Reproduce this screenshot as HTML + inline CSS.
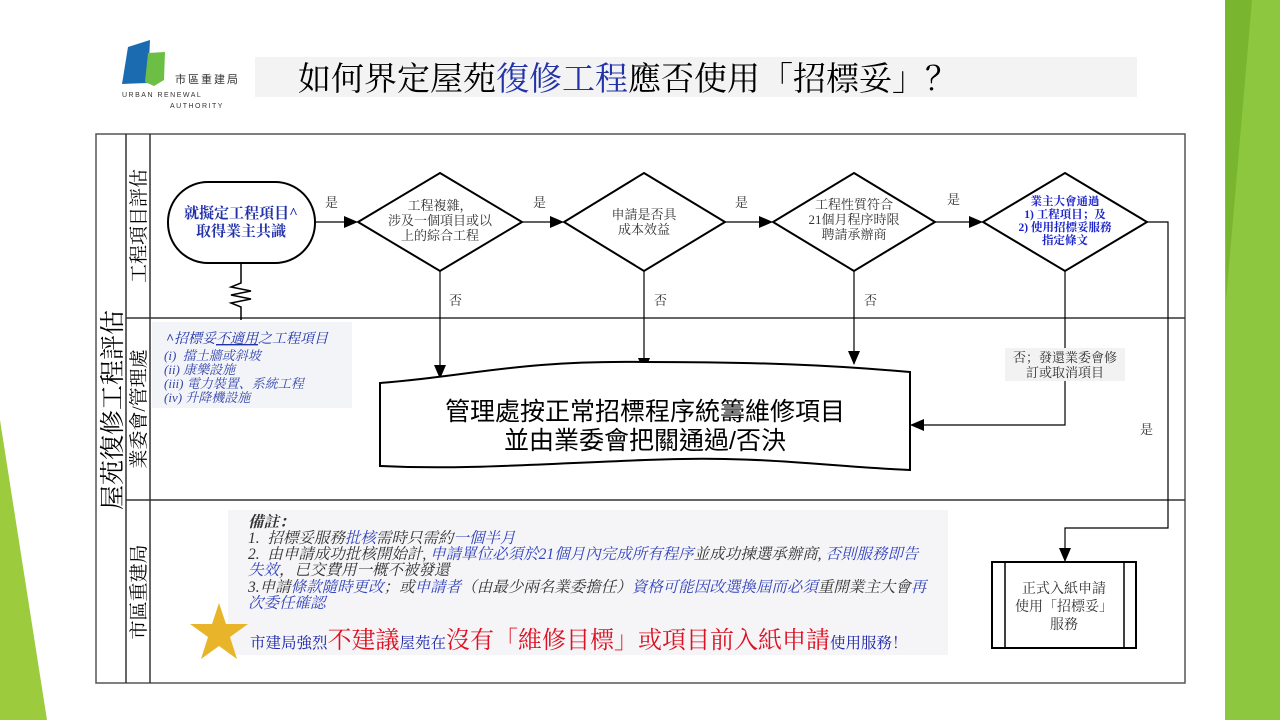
<!DOCTYPE html>
<html><head><meta charset="utf-8"><style>
body{margin:0;background:#fff;}
svg{display:block;}
text{font-family:"Liberation Serif","Noto Serif CJK SC","Noto Sans CJK TC",serif;}
.s{font-family:"Liberation Sans","Noto Sans CJK TC",sans-serif;}
.m{font-family:"Liberation Serif","Noto Serif CJK SC",serif;}
</style></head><body>
<svg width="1280" height="720" viewBox="0 0 1280 720" xmlns="http://www.w3.org/2000/svg">
<defs>
<marker id="b" markerWidth="14" markerHeight="14" refX="13" refY="7" orient="auto" markerUnits="userSpaceOnUse"><path d="M0,1L14,7L0,13z" fill="#000"/></marker></defs>
<polygon points="1225,0 1280,0 1280,720 1225,720" fill="#8dc63f"/>
<polygon points="1225,0 1252,0 1226,300" fill="#7ab52f"/>
<polygon points="0,420 47,720 0,720" fill="#9ccc3e"/>
<polygon points="128,47 150,40 148,83 122,84" fill="#1b6bb0"/>
<polygon points="148,53 165,52 164,80 154,86 145,82" fill="#6cbe45"/>
<text x="175" y="83" font-size="11" class="s" fill="#333" letter-spacing="2">市區重建局</text>
<text x="122" y="97" font-size="7" class="s" fill="#333" letter-spacing="1.5">URBAN RENEWAL</text>
<text x="170" y="108" font-size="7" class="s" fill="#333" letter-spacing="1.5">AUTHORITY</text>
<rect x="255" y="57" width="882" height="40" fill="#f3f3f3"/>
<text x="298" y="90" font-size="33" fill="#000" class="m">如何界定屋苑<tspan fill="#2233aa">復修工程</tspan>應否使用「招標妥」？</text>
<rect x="96" y="134" width="1089" height="549" fill="none" stroke="#555" stroke-width="1.5"/>
<line x1="126" y1="134" x2="126" y2="683" stroke="#333" stroke-width="1.5"/>
<line x1="150" y1="134" x2="150" y2="683" stroke="#333" stroke-width="1.5"/>
<line x1="126" y1="318" x2="1185" y2="318" stroke="#333" stroke-width="1.5"/>
<line x1="126" y1="500" x2="1185" y2="500" stroke="#333" stroke-width="1.5"/>
<text transform="translate(121,410) rotate(-90)" font-size="25" text-anchor="middle">屋苑復修工程評估</text>
<text transform="translate(145,226) rotate(-90)" font-size="19" text-anchor="middle">工程項目評估</text>
<text transform="translate(145,409) rotate(-90)" font-size="19" text-anchor="middle">業委會/管理處</text>
<text transform="translate(145,592) rotate(-90)" font-size="19" text-anchor="middle">市區重建局</text>
<rect x="168" y="182" width="147" height="81" rx="40" fill="#fff" stroke="#000" stroke-width="2"/>
<text x="241" y="218" font-size="15" font-weight="bold" fill="#2233aa" text-anchor="middle">就擬定工程項目^</text>
<text x="241" y="236" font-size="15" font-weight="bold" fill="#2233aa" text-anchor="middle">取得業主共識</text>
<path d="M241,263V283L231,287L251,291L231,295L251,299L231,303L241,307V320" fill="none" stroke="#000" stroke-width="1.5"/>
<rect x="152" y="322" width="200" height="86" fill="#f3f4f8"/>
<g font-style="italic" fill="#3344aa" font-size="13">
<text x="166" y="343" font-size="14" fill="#2233aa"><tspan font-weight="bold">^</tspan>招標妥<tspan text-decoration="underline">不適用</tspan>之工程項目</text>
<text x="164" y="360">(i)&#160;&#160;擋土牆或斜坡</text>
<text x="164" y="374">(ii) 康樂設施</text>
<text x="164" y="388">(iii) 電力裝置、系統工程</text>
<text x="164" y="402">(iv) 升降機設施</text>
</g>
<g fill="#fff" stroke="#000" stroke-width="2">
<polygon points="440,173 522,222 440,271 358,222"/>
<polygon points="644,173 725,222 644,271 564,222"/>
<polygon points="854,173 935,222 854,271 773,222"/>
<polygon points="1065,173 1147,222 1065,271 983,222"/>
</g>
<g font-size="13" text-anchor="middle" fill="#333">
<text x="440" y="210">工程複雜，</text><text x="440" y="225">涉及一個項目或以</text><text x="440" y="240">上的綜合工程</text>
<text x="644" y="219">申請是否具</text><text x="644" y="234">成本效益</text>
<text x="854" y="209">工程性質符合</text><text x="854" y="224">21個月程序時限</text><text x="854" y="239">聘請承辦商</text>
</g>
<g font-size="11.5" font-weight="bold" text-anchor="middle" fill="#1a22cc">
<text x="1065" y="205">業主大會通過</text><text x="1065" y="218">1) 工程項目；及</text><text x="1065" y="231">2) 使用招標妥服務</text><text x="1065" y="244">指定條文</text>
</g>
<g stroke="#000" stroke-width="1.2" fill="none">
<line x1="315" y1="222" x2="357" y2="222" marker-end="url(#b)"/>
<line x1="522" y1="222" x2="563" y2="222" marker-end="url(#b)"/>
<line x1="725" y1="222" x2="772" y2="222" marker-end="url(#b)"/>
<line x1="935" y1="222" x2="982" y2="222" marker-end="url(#b)"/>
<line x1="440" y1="271" x2="440" y2="378" marker-end="url(#b)"/>
<line x1="644" y1="271" x2="644" y2="371" marker-end="url(#b)"/>
<line x1="854" y1="271" x2="854" y2="364" marker-end="url(#b)"/>
<polyline points="1065,271 1065,425 911,425" marker-end="url(#b)"/>
<polyline points="1147,222 1168,222 1168,528 1065,528 1065,561" marker-end="url(#b)"/>
</g>
<g font-size="13" fill="#333">
<text x="325" y="207">是</text><text x="533" y="207">是</text><text x="735" y="207">是</text><text x="947" y="204">是</text>
<text x="449" y="305">否</text><text x="654" y="305">否</text><text x="864" y="305">否</text>
<text x="1140" y="434">是</text>
</g>
<rect x="1005" y="348" width="120" height="33" fill="#f2f2f2"/>
<text x="1065" y="362" font-size="13" fill="#333" text-anchor="middle">否；發還業委會修</text>
<text x="1065" y="377" font-size="13" fill="#333" text-anchor="middle">訂或取消項目</text>
<path d="M380,383 C470,376 520,360 645,362 C760,362 830,365 910,372 L910,470 C820,466 760,455 645,460 C540,464 460,470 380,466 Z" fill="#fff" stroke="#000" stroke-width="2"/>
<text x="645" y="420" font-size="25" text-anchor="middle" class="s">管理處按正常招標程序統籌維修項目</text>
<text x="645" y="449" font-size="25" text-anchor="middle" class="s">並由業委會把關通過/否決</text>
<rect x="992" y="562" width="144" height="86" fill="#fff" stroke="#000" stroke-width="2"/>
<line x1="1005" y1="562" x2="1005" y2="648" stroke="#000" stroke-width="1.5"/>
<line x1="1124" y1="562" x2="1124" y2="648" stroke="#000" stroke-width="1.5"/>
<g font-size="14" fill="#333" text-anchor="middle" class="s">
<text x="1064" y="593">正式入紙申請</text><text x="1064" y="611">使用「招標妥」</text><text x="1064" y="629">服務</text></g>
<rect x="228" y="510" width="720" height="145" fill="#f5f5f7"/>
<g font-size="15.5" font-style="italic" class="s" fill="#333">
<text x="248" y="527" font-weight="bold">備註：</text>
<text x="248" y="543">1.&#160; 招標妥服務<tspan fill="#3344bb">批核</tspan>需時只需約<tspan fill="#3344bb">一個半月</tspan></text>
<text x="248" y="559">2.&#160; 由申請成功批核開始計, <tspan fill="#3344bb">申請單位必須於21個月內完成所有程序</tspan>並成功揀選承辦商, <tspan fill="#3344bb">否則服務即告</tspan></text>
<text x="248" y="575"><tspan fill="#3344bb">失效</tspan>，已交費用一概不被發還</text>
<text x="248" y="592">3.申請<tspan fill="#3344bb">條款隨時更改</tspan>；或<tspan fill="#3344bb">申請者</tspan>（由最少兩名業委擔任）<tspan fill="#3344bb">資格可能因改選換屆而必須</tspan>重開業主大會<tspan fill="#3344bb">再</tspan></text>
<text x="248" y="608" fill="#3344bb">次委任確認</text>
</g>
<polygon points="219,603 226,624 248,624 230,637 237,659 219,646 201,659 208,637 190,624 212,624" fill="#e8b52a"/>
<text x="250" y="648" font-size="15.5" fill="#1a22aa">市建局強烈<tspan font-size="24" fill="#dd1122">不建議</tspan>屋苑在<tspan font-size="24" fill="#dd1122">沒有「維修目標」或項目前入紙申請</tspan>使用服務！</text>
</svg>
</body></html>
